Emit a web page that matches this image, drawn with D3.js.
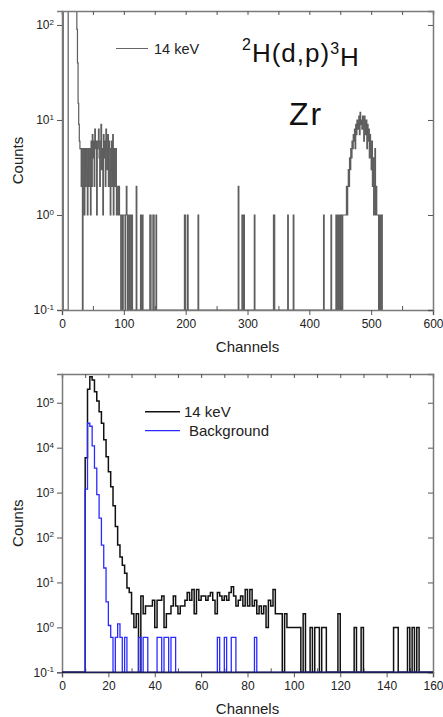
<!DOCTYPE html>
<html>
<head>
<meta charset="utf-8">
<script src="https://cdn.jsdelivr.net/npm/d3@7"></script>
<style>
  body { margin: 0; background: #fff; }
  svg { display: block; font-family: "Liberation Sans", Arial, sans-serif; }
</style>
</head>
<body>
<script>
// Top panel: 14 keV spectrum on Zr, nonzero channels only (zero elsewhere)
const topChannels = [0, 1, 10, 11, 12, 13, 14, 15, 16, 17, 18, 19, 20, 21, 22,
  23, 24, 25, 26, 27, 28, 29, 30, 31, 32, 34, 35, 36, 37, 38, 39, 40, 41, 42, 43,
  44, 45, 46, 47, 48, 49, 50, 51, 52, 53, 54, 55, 56, 57, 58, 59, 60, 61, 62, 63,
  64, 65, 66, 67, 68, 69, 70, 71, 72, 73, 74, 75, 76, 77, 78, 79, 80, 81, 82, 83,
  84, 85, 86, 87, 88, 89, 90, 91, 92, 93, 94, 96, 97, 99, 100, 101, 103, 104, 105,
  107, 108, 110, 111, 113, 120, 127, 130, 142, 143, 147, 148, 152, 198, 199, 203,
  220, 285, 291, 292, 294, 311, 342, 343, 365, 374, 423, 435, 443, 446, 449, 451,
  452, 454, 455, 456, 457, 458, 459, 460, 461, 462, 463, 464, 465, 466, 467, 468,
  469, 470, 471, 472, 473, 474, 475, 476, 477, 478, 479, 480, 481, 482, 483, 484,
  485, 486, 487, 488, 489, 490, 491, 492, 493, 494, 495, 496, 497, 498, 499, 500,
  501, 502, 503, 504, 505, 506, 507, 508, 509, 510, 511, 513, 515, 516, 518, 519, 521];
const topCounts = [400, 400, 400, 400, 400, 400, 400, 400, 400, 400, 400, 400, 400, 400, 400,
  200, 90, 40, 15, 9, 6, 5, 5, 2, 5, 2, 5, 1, 5, 2, 5, 3, 1, 5, 2,
  4, 5, 1, 6, 2, 7, 4, 6, 2, 8, 5, 6, 1, 5, 6, 8, 4, 2, 6, 9,
  3, 5, 1, 7, 4, 6, 2, 8, 5, 3, 7, 2, 6, 5, 1, 3, 6, 2, 7, 1,
  5, 2, 3, 5, 1, 2, 2, 1, 2, 1, 1, 1, 1, 1, 1, 1, 1, 2, 1,
  1, 1, 1, 1, 1, 2, 1, 1, 1, 1, 1, 1, 1, 1, 1, 1,
  1, 2, 1, 1, 1, 1, 1, 1, 1, 1, 1, 1, 1, 1,
  1, 1, 1, 1, 1, 1, 1, 1, 1, 2, 1, 2, 3, 2, 4, 3,
  5, 4, 6, 5, 7, 6, 8, 5, 9, 7, 10, 8, 9, 11, 7, 12,
  9, 10, 8, 11, 10, 6, 11, 9, 7, 10, 5, 9, 6, 8, 4, 7,
  5, 3, 6, 2, 4, 1, 2, 5, 1, 2, 1, 1, 1, 1, 1, 1, 1];

// Bottom panel: counts per channel, starting at channel 0
const keV14Counts = [0, 0, 0, 0, 0, 0, 0, 0, 0, 0,
  6000, 200000, 380000, 320000, 175000, 110000, 63000, 35000, 15000, 6300,
  2900, 1350, 510, 175, 68, 37, 24, 16, 7.5, 6,
  2, 1, 2, 0, 5, 2, 3, 3, 3, 4,
  1, 4, 4, 5, 1, 2, 2, 3, 5, 3,
  2, 3, 3, 4, 6, 4, 7, 2, 7, 4,
  5, 5, 4, 5, 6, 4, 2, 6, 5, 4,
  5, 4, 6, 8, 5, 3, 4, 5, 3, 7,
  3, 7, 3, 4, 2, 3, 2, 3, 1, 4,
  3, 7, 2, 2, 2, 0, 2, 1, 1, 1,
  1, 1, 1, 0, 2, 0, 0, 1, 0, 1,
  1, 0, 1, 1, 0, 0, 0, 0, 0, 2,
  0, 0, 0, 0, 0, 0, 1, 0, 0, 1,
  0, 0, 0, 0, 0, 0, 0, 0, 0, 0,
  0, 0, 0, 1, 1, 0, 0, 0, 0, 1,
  0, 1, 0, 1, 0, 0, 0, 0, 0, 0];
const backgroundCounts = [0, 0, 0, 0, 0, 0, 0, 0, 0, 0,
  1200, 35000, 30000, 11000, 3500, 900, 270, 68, 21, 3.7,
  1.1, 0.6, 0, 0.6, 1.2, 0.6, 0, 0.6, 0, 0,
  0, 0, 0, 0.6, 0, 0.6, 0.6, 0, 0, 0,
  0, 0.6, 0.6, 0, 0.6, 0.6, 0, 0.6, 0.6, 0,
  0, 0, 0, 0, 0, 0, 0, 0, 0, 0,
  0, 0, 0, 0, 0, 0, 0, 0.6, 0, 0,
  0.6, 0, 0, 0.6, 0.6, 0, 0, 0, 0, 0,
  0, 0, 0, 0.6, 0, 0, 0, 0, 0, 0];

const topXTicks = [0, 100, 200, 300, 400, 500, 600];
const topYTicks = [0.1, 1, 10, 100];
const bottomXTicks = [0, 20, 40, 60, 80, 100, 120, 140, 160];
const bottomYTicks = [0.1, 1, 10, 100, 1000, 1e4, 1e5];

const W = 443, H = 717;
const left = 62, right = 433;
const frameColor = '#7a7a7a';

const svg = d3.select('body').append('svg')
  .attr('width', W)
  .attr('height', H)
  .attr('viewBox', `0 0 ${W} ${H}`);

// build dense channel arrays
function denseFromSparse (chs, vals, n) {
  const a = new Array(n).fill(0);
  chs.forEach((c, i) => { a[c] = vals[i]; });
  return a;
}

function expLabel (sel) {
  sel.each(function (d) {
    const t = d3.select(this);
    const e = Math.round(Math.log10(d));
    t.text('10');
    t.append('tspan').attr('dy', '-0.55em').attr('font-size', '8px').text(e);
  });
}

function panel ({ id, top, bottom, xMax, yMax, xTicks, xMinor, yTicks, topTickStep }) {
  const x = d3.scaleLinear().domain([0, xMax]).range([left, right]);
  const y = d3.scaleLog().domain([0.1, yMax]).range([bottom, top]);
  const g = svg.append('g');
  const data = g.append('g');

  g.append('clipPath').attr('id', id)
    .append('rect').attr('x', left).attr('y', top)
    .attr('width', right - left).attr('height', bottom - top);

  // bottom axis: majors outward, minors inward
  g.append('g').attr('transform', `translate(0,${bottom})`)
    .call(d3.axisBottom(x).tickValues(xTicks).tickSize(5).tickPadding(4).tickFormat(d3.format('d')));
  g.append('g').attr('transform', `translate(0,${bottom})`)
    .call(d3.axisBottom(x).tickValues(xMinor).tickSize(-4).tickFormat(''))
    .call(a => a.select('.domain').remove());
  // top: inward ticks
  g.append('g').attr('transform', `translate(0,${top})`)
    .call(d3.axisTop(x).tickValues(d3.range(0, xMax + 1, topTickStep)).tickSize(-4).tickFormat(''));
  // left
  const yAxis = g.append('g').attr('transform', `translate(${left},0)`)
    .call(d3.axisLeft(y).tickValues(yTicks).tickSize(5).tickPadding(3));
  yAxis.selectAll('text').call(expLabel);
  // right: inward
  g.append('g').attr('transform', `translate(${right},0)`)
    .call(d3.axisRight(y).tickValues(yTicks).tickSize(-5).tickFormat(''));

  g.selectAll('.domain').attr('stroke', frameColor).attr('stroke-width', 1.5);
  g.selectAll('.tick line').attr('stroke', '#555');
  g.selectAll('.tick text').attr('font-size', 12).attr('fill', '#222')
    .attr('font-family', '"Liberation Sans", Arial, sans-serif');

  g.append('text')
    .attr('x', (left + right) / 2).attr('y', bottom + 42)
    .attr('text-anchor', 'middle').attr('font-size', 15).attr('fill', '#222')
    .text('Channels');
  g.append('text')
    .attr('transform', `translate(23,${(top + bottom) / 2}) rotate(-90)`)
    .attr('text-anchor', 'middle').attr('font-size', 15).attr('fill', '#222')
    .text('Counts');

  return { x, y, g, data };
}

function stepLine (x, y, floor) {
  return d3.line()
    .x((d, i) => x(i))
    .y(d => y(Math.max(d, floor)))
    .curve(d3.curveStepAfter);
}

// ---- top panel
const p1 = panel({
  id: 'clip-top', top: 11, bottom: 310, xMax: 600, yMax: Math.pow(10, 2.147),
  xTicks: topXTicks, xMinor: [50, 150, 250, 350, 450, 550], yTicks: topYTicks, topTickStep: 50
});
const topDense = denseFromSparse(topChannels, topCounts, 601);
p1.data.append('path')
  .datum(topDense)
  .attr('clip-path', 'url(#clip-top)')
  .attr('fill', 'none')
  .attr('stroke', '#5e5e5e')
  .attr('stroke-width', 1.2)
  .attr('d', stepLine(p1.x, p1.y, 0.1));

p1.g.append('line').attr('x1', 116).attr('x2', 148).attr('y1', 48.5).attr('y2', 48.5)
  .attr('stroke', '#666').attr('stroke-width', 1);
p1.g.append('text').attr('x', 154).attr('y', 53.5).attr('font-size', 14.5).attr('fill', '#222')
  .text('14 keV');

const reaction = p1.g.append('text').attr('x', 242).attr('y', 57)
  .attr('font-size', 26).attr('letter-spacing', 1).attr('fill', '#111');
reaction.append('tspan').attr('dy', '-0.45em').attr('font-size', 16).text('2');
reaction.append('tspan').attr('dy', '0.45em').text('H(d,p)');
reaction.append('tspan').attr('dy', '-0.45em').attr('font-size', 16).text('3');
reaction.append('tspan').attr('dy', '0.45em').text('H');

p1.g.append('text').attr('x', 289).attr('y', 125).attr('font-size', 32)
  .attr('letter-spacing', 2).attr('fill', '#111')
  .text('Zr');

// ---- bottom panel
const p2 = panel({
  id: 'clip-bottom', top: 374, bottom: 672.3, xMax: 160, yMax: Math.pow(10, 5.64),
  xTicks: bottomXTicks, xMinor: [10, 30, 50, 70, 90, 110, 130, 150], yTicks: bottomYTicks, topTickStep: 10
});
const blackDense = keV14Counts.concat(new Array(161 - keV14Counts.length).fill(0));
const blueDense = backgroundCounts.concat(new Array(161 - backgroundCounts.length).fill(0));

p2.g.append('path')
  .datum(blackDense)
  .attr('clip-path', 'url(#clip-bottom)')
  .attr('fill', 'none')
  .attr('stroke', '#111')
  .attr('stroke-width', 1.5)
  .attr('d', stepLine(p2.x, p2.y, 0.1));
p2.g.append('path')
  .datum(blueDense)
  .attr('clip-path', 'url(#clip-bottom)')
  .attr('fill', 'none')
  .attr('stroke', '#2b2bff')
  .attr('stroke-width', 1.3)
  .attr('d', stepLine(p2.x, p2.y, 0.1));
// dark bottom edge where the blue baseline sits on the frame
p2.g.append('line')
  .attr('x1', left).attr('x2', right)
  .attr('y1', p2.y(0.1)).attr('y2', p2.y(0.1))
  .attr('stroke', '#1c1c55').attr('stroke-width', 1.5);

p2.g.append('line').attr('x1', 145).attr('x2', 180).attr('y1', 411.7).attr('y2', 411.7)
  .attr('stroke', '#111').attr('stroke-width', 1.5);
p2.g.append('text').attr('x', 184).attr('y', 417).attr('font-size', 15).attr('fill', '#222')
  .text('14 keV');
p2.g.append('line').attr('x1', 145).attr('x2', 180).attr('y1', 430.7).attr('y2', 430.7)
  .attr('stroke', '#2b2bff').attr('stroke-width', 1.3);
p2.g.append('text').attr('x', 189).attr('y', 436).attr('font-size', 15).attr('fill', '#222')
  .text('Background');
</script>
</body>
</html>
